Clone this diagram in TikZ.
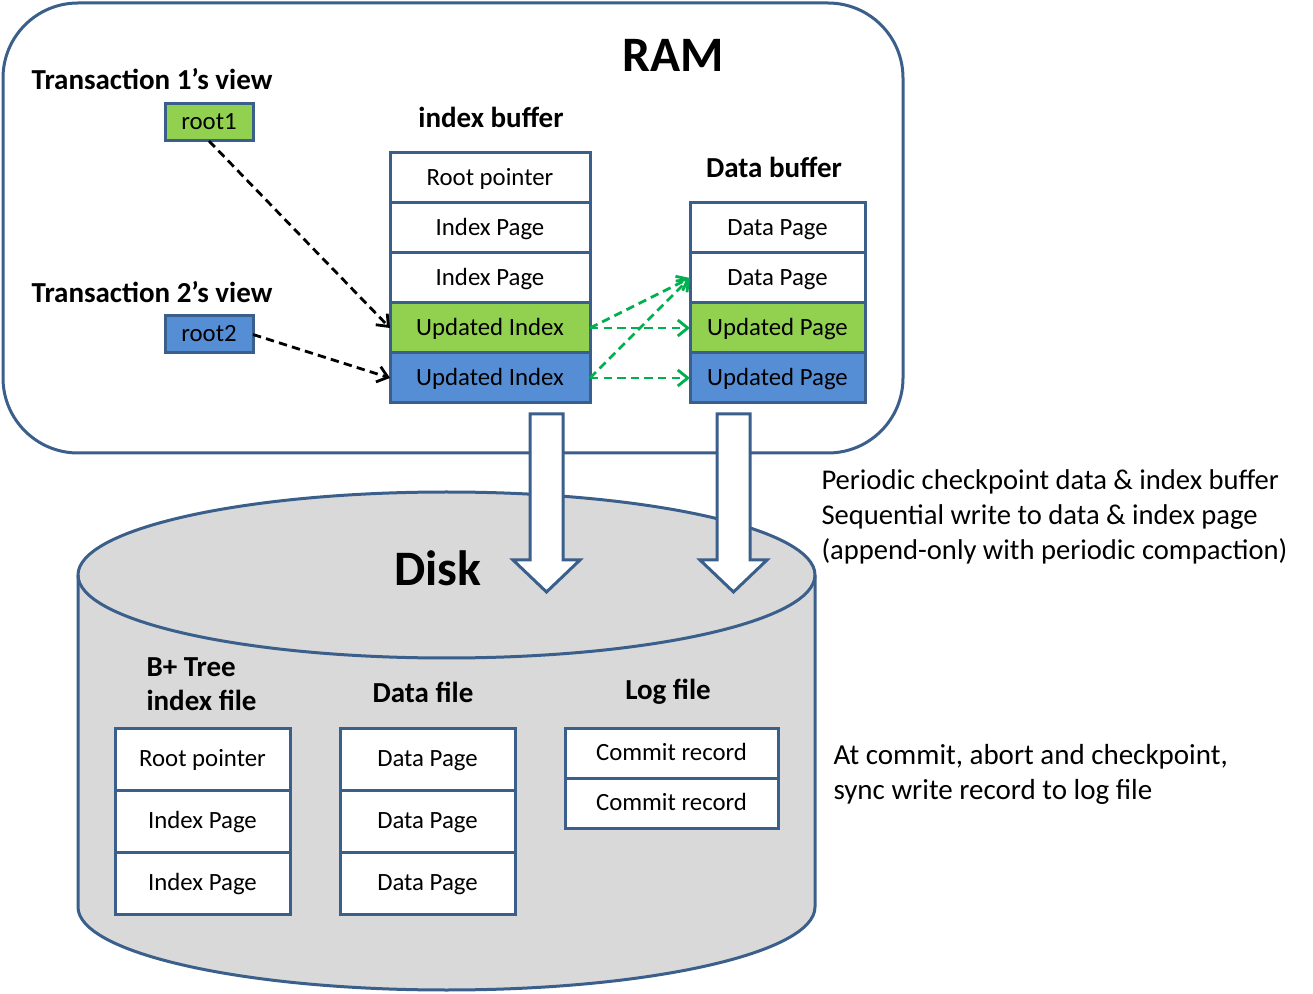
\documentclass[tikz,border=0pt]{standalone}
\usepackage{fontspec}
\setmainfont{Carlito}
\usetikzlibrary{arrows.meta}
\usetikzlibrary{positioning}

\definecolor{frame}{HTML}{3A5F8B}
\definecolor{updgreen}{HTML}{92D050}
\definecolor{updblue}{HTML}{558ED5}
\definecolor{diskgray}{HTML}{D9D9D9}
\definecolor{ptrgreen}{HTML}{00B050}

\begin{document}
\begin{tikzpicture}[x=0.5pt, y=-0.5pt, line width=1.5pt,
		cell/.style={draw=frame, fill=white, inner sep=0pt, outer sep=0pt,
				minimum width=87.5pt, minimum height=25pt, text height=1em, text depth=0.25em,
				font=\fontsize{12.4}{14.5}\selectfont},
		heading/.style={font=\bfseries\fontsize{14.5}{17}\selectfont, align=left},
		title/.style={font=\bfseries\fontsize{24.8}{28}\selectfont},
		note/.style={font=\fontsize{14.5}{17.5}\selectfont, align=left, anchor=west, inner sep=0pt},
		viewptr/.style={line width=1.4pt, dash pattern=on 4.2pt off 2.6pt,
				-{Straight Barb[length=5pt,width=8pt]}},
		pageptr/.style={viewptr, draw=ptrgreen},
		flush/.style={draw=frame, fill=white, line width=1.5pt, line join=miter}]
	\useasboundingbox (0,0) rectangle (1313,994);

	% RAM
	\draw[frame, fill=white, rounded corners=37.5pt] (3,3) rectangle (903,453);
	\node[title] (ram) at (673,55) {RAM};

	\node[heading] (view1) at (152,79) {Transaction 1’s view};
	\node[cell, fill=updgreen, minimum width=44pt, minimum height=18.5pt] (root1) at (209,122.5) {root1};
	\node[heading] (view2) at (152,292) {Transaction 2’s view};
	\node[cell, fill=updblue, minimum width=44pt, minimum height=18.5pt] (root2) at (209,334.5) {root2};

	\node[heading] (ibuf) at (491,117) {index buffer};
	\node[cell, minimum width=100pt] (ib1) at (490,178) {Root pointer};
	\node[cell, minimum width=100pt, below=0pt of ib1] (ib2) {Index Page};
	\node[cell, minimum width=100pt, below=0pt of ib2] (ib3) {Index Page};
	\node[cell, minimum width=100pt, below=0pt of ib3, fill=updgreen] (ib4) {Updated Index};
	\node[cell, minimum width=100pt, below=0pt of ib4, fill=updblue] (ib5) {Updated Index};

	\node[heading] (dbuf) at (774,167) {Data buffer};
	\node[cell] (db1) at (777.5,228) {Data Page};
	\node[cell, below=0pt of db1] (db2) {Data Page};
	\node[cell, below=0pt of db2, fill=updgreen] (db3) {Updated Page};
	\node[cell, below=0pt of db3, fill=updblue] (db4) {Updated Page};

	\draw[viewptr] (root1.south) -- (ib4.west);
	\draw[viewptr] (root2.east) -- (ib5.west);
	\draw[pageptr] (ib4.east) -- (db2.west);
	\draw[pageptr] (ib4.east) -- (db3.west);
	\draw[pageptr] (ib5.east) -- (db2.west);
	\draw[pageptr] (ib5.east) -- (db4.west);

	% Disk
	\draw[frame, fill=diskgray] (78,575) -- (78,907)
		arc[start angle=180, end angle=0, x radius=368.5, y radius=83] -- (815,575)
		arc[start angle=0, end angle=-180, x radius=368.5, y radius=83] -- cycle;
	\draw[frame] (78,575) arc[start angle=180, end angle=0, x radius=368.5, y radius=83];
	\node[title] (disk) at (438,568) {Disk};

	\node[heading, anchor=west, inner sep=0pt] (ifile) at (145,684) {B+ Tree\\index file};
	\node[cell, minimum height=31pt] (if1) at (202.5,759) {Root pointer};
	\node[cell, minimum height=31pt, below=0pt of if1] (if2) {Index Page};
	\node[cell, minimum height=31pt, below=0pt of if2] (if3) {Index Page};

	\node[heading] (dfile) at (423,692) {Data file};
	\node[cell, minimum height=31pt] (df1) at (427.5,759) {Data Page};
	\node[cell, minimum height=31pt, below=0pt of df1] (df2) {Data Page};
	\node[cell, minimum height=31pt, below=0pt of df2] (df3) {Data Page};

	\node[heading] (lfile) at (668,692) {Log file};
	\node[cell, minimum width=106.5pt] (lf1) at (671.5,753) {Commit record};
	\node[cell, minimum width=106.5pt, below=0pt of lf1] (lf2) {Commit record};

	% checkpoint flush
	\draw[flush] (530,414) -- (563,414) -- (563,560) -- (580,560) -- (546.5,592)
		-- (513,560) -- (530,560) -- cycle;
	\draw[flush] (717,414) -- (750,414) -- (750,560) -- (767,560) -- (733.5,592)
		-- (700,560) -- (717,560) -- cycle;

	\node[note, font=\fontsize{14.3}{17.5}\selectfont] (ckpt) at (820,517) {Periodic checkpoint data \& index buffer\\
		Sequential write to data \& index page\\(append-only with periodic compaction)};
	\node[note] (sync) at (832,774) {At commit, abort and checkpoint,\\sync write record to log file};
\end{tikzpicture}
\end{document}
